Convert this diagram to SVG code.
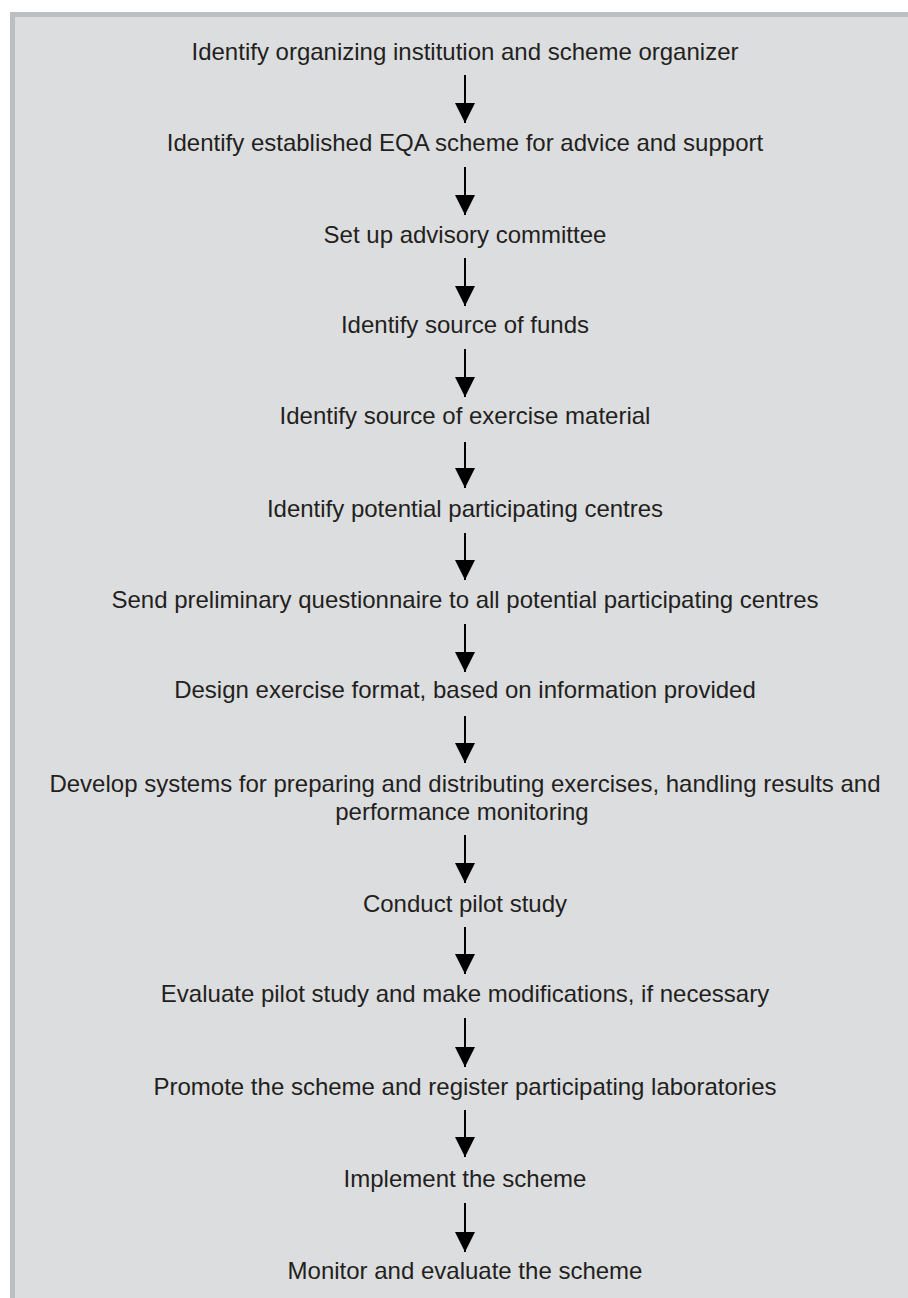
<svg xmlns="http://www.w3.org/2000/svg" width="908" height="1298" viewBox="0 0 908 1298">
<style>
.t{font-family:"Liberation Sans",Arial,sans-serif;font-size:24px;fill:#231f20;text-anchor:middle}
.c{stroke:#000;stroke-width:2;fill:none;marker-end:url(#ah)}
</style>
<defs>
<marker id="ah" markerUnits="userSpaceOnUse" markerWidth="20" markerHeight="20" refX="20" refY="10" orient="auto" viewBox="0 0 20 20">
<path d="M0,0 L20,10 L0,20 z" fill="#000"/>
</marker>
</defs>
<rect x="0" y="0" width="908" height="1298" fill="#fff"/>
<rect id="panel" x="12.5" y="14.5" width="905" height="1300" fill="#dcdddf" stroke="#bdbec1" stroke-width="5"/>
<g id="n1"><text class="t" x="465" y="60">Identify organizing institution and scheme organizer</text></g>
<g id="n2"><text class="t" x="465" y="151">Identify established EQA scheme for advice and support</text></g>
<g id="n3"><text class="t" x="465" y="243">Set up advisory committee</text></g>
<g id="n4"><text class="t" x="465" y="333">Identify source of funds</text></g>
<g id="n5"><text class="t" x="465" y="424">Identify source of exercise material</text></g>
<g id="n6"><text class="t" x="465" y="517">Identify potential participating centres</text></g>
<g id="n7"><text class="t" x="465" y="608">Send preliminary questionnaire to all potential participating centres</text></g>
<g id="n8"><text class="t" x="465" y="698">Design exercise format, based on information provided</text></g>
<g id="n9"><text class="t" x="465" y="792">Develop systems for preparing and distributing exercises, handling results and</text><text class="t" x="462" y="820">performance monitoring</text></g>
<g id="n10"><text class="t" x="465" y="912">Conduct pilot study</text></g>
<g id="n11"><text class="t" x="465" y="1002">Evaluate pilot study and make modifications, if necessary</text></g>
<g id="n12"><text class="t" x="465" y="1095">Promote the scheme and register participating laboratories</text></g>
<g id="n13"><text class="t" x="465" y="1187">Implement the scheme</text></g>
<g id="n14"><text class="t" x="465" y="1279">Monitor and evaluate the scheme</text></g>
<g id="connectors">
<line class="c" x1="465" y1="75" x2="465" y2="123"/>
<line class="c" x1="465" y1="167" x2="465" y2="215"/>
<line class="c" x1="465" y1="258" x2="465" y2="306"/>
<line class="c" x1="465" y1="349" x2="465" y2="397"/>
<line class="c" x1="465" y1="442" x2="465" y2="488"/>
<line class="c" x1="465" y1="533" x2="465" y2="580"/>
<line class="c" x1="465" y1="624" x2="465" y2="672"/>
<line class="c" x1="465" y1="716" x2="465" y2="763"/>
<line class="c" x1="465" y1="835" x2="465" y2="883"/>
<line class="c" x1="465" y1="927" x2="465" y2="974"/>
<line class="c" x1="465" y1="1018" x2="465" y2="1067"/>
<line class="c" x1="465" y1="1110" x2="465" y2="1157"/>
<line class="c" x1="465" y1="1203" x2="465" y2="1252"/>
</g>
</svg>
